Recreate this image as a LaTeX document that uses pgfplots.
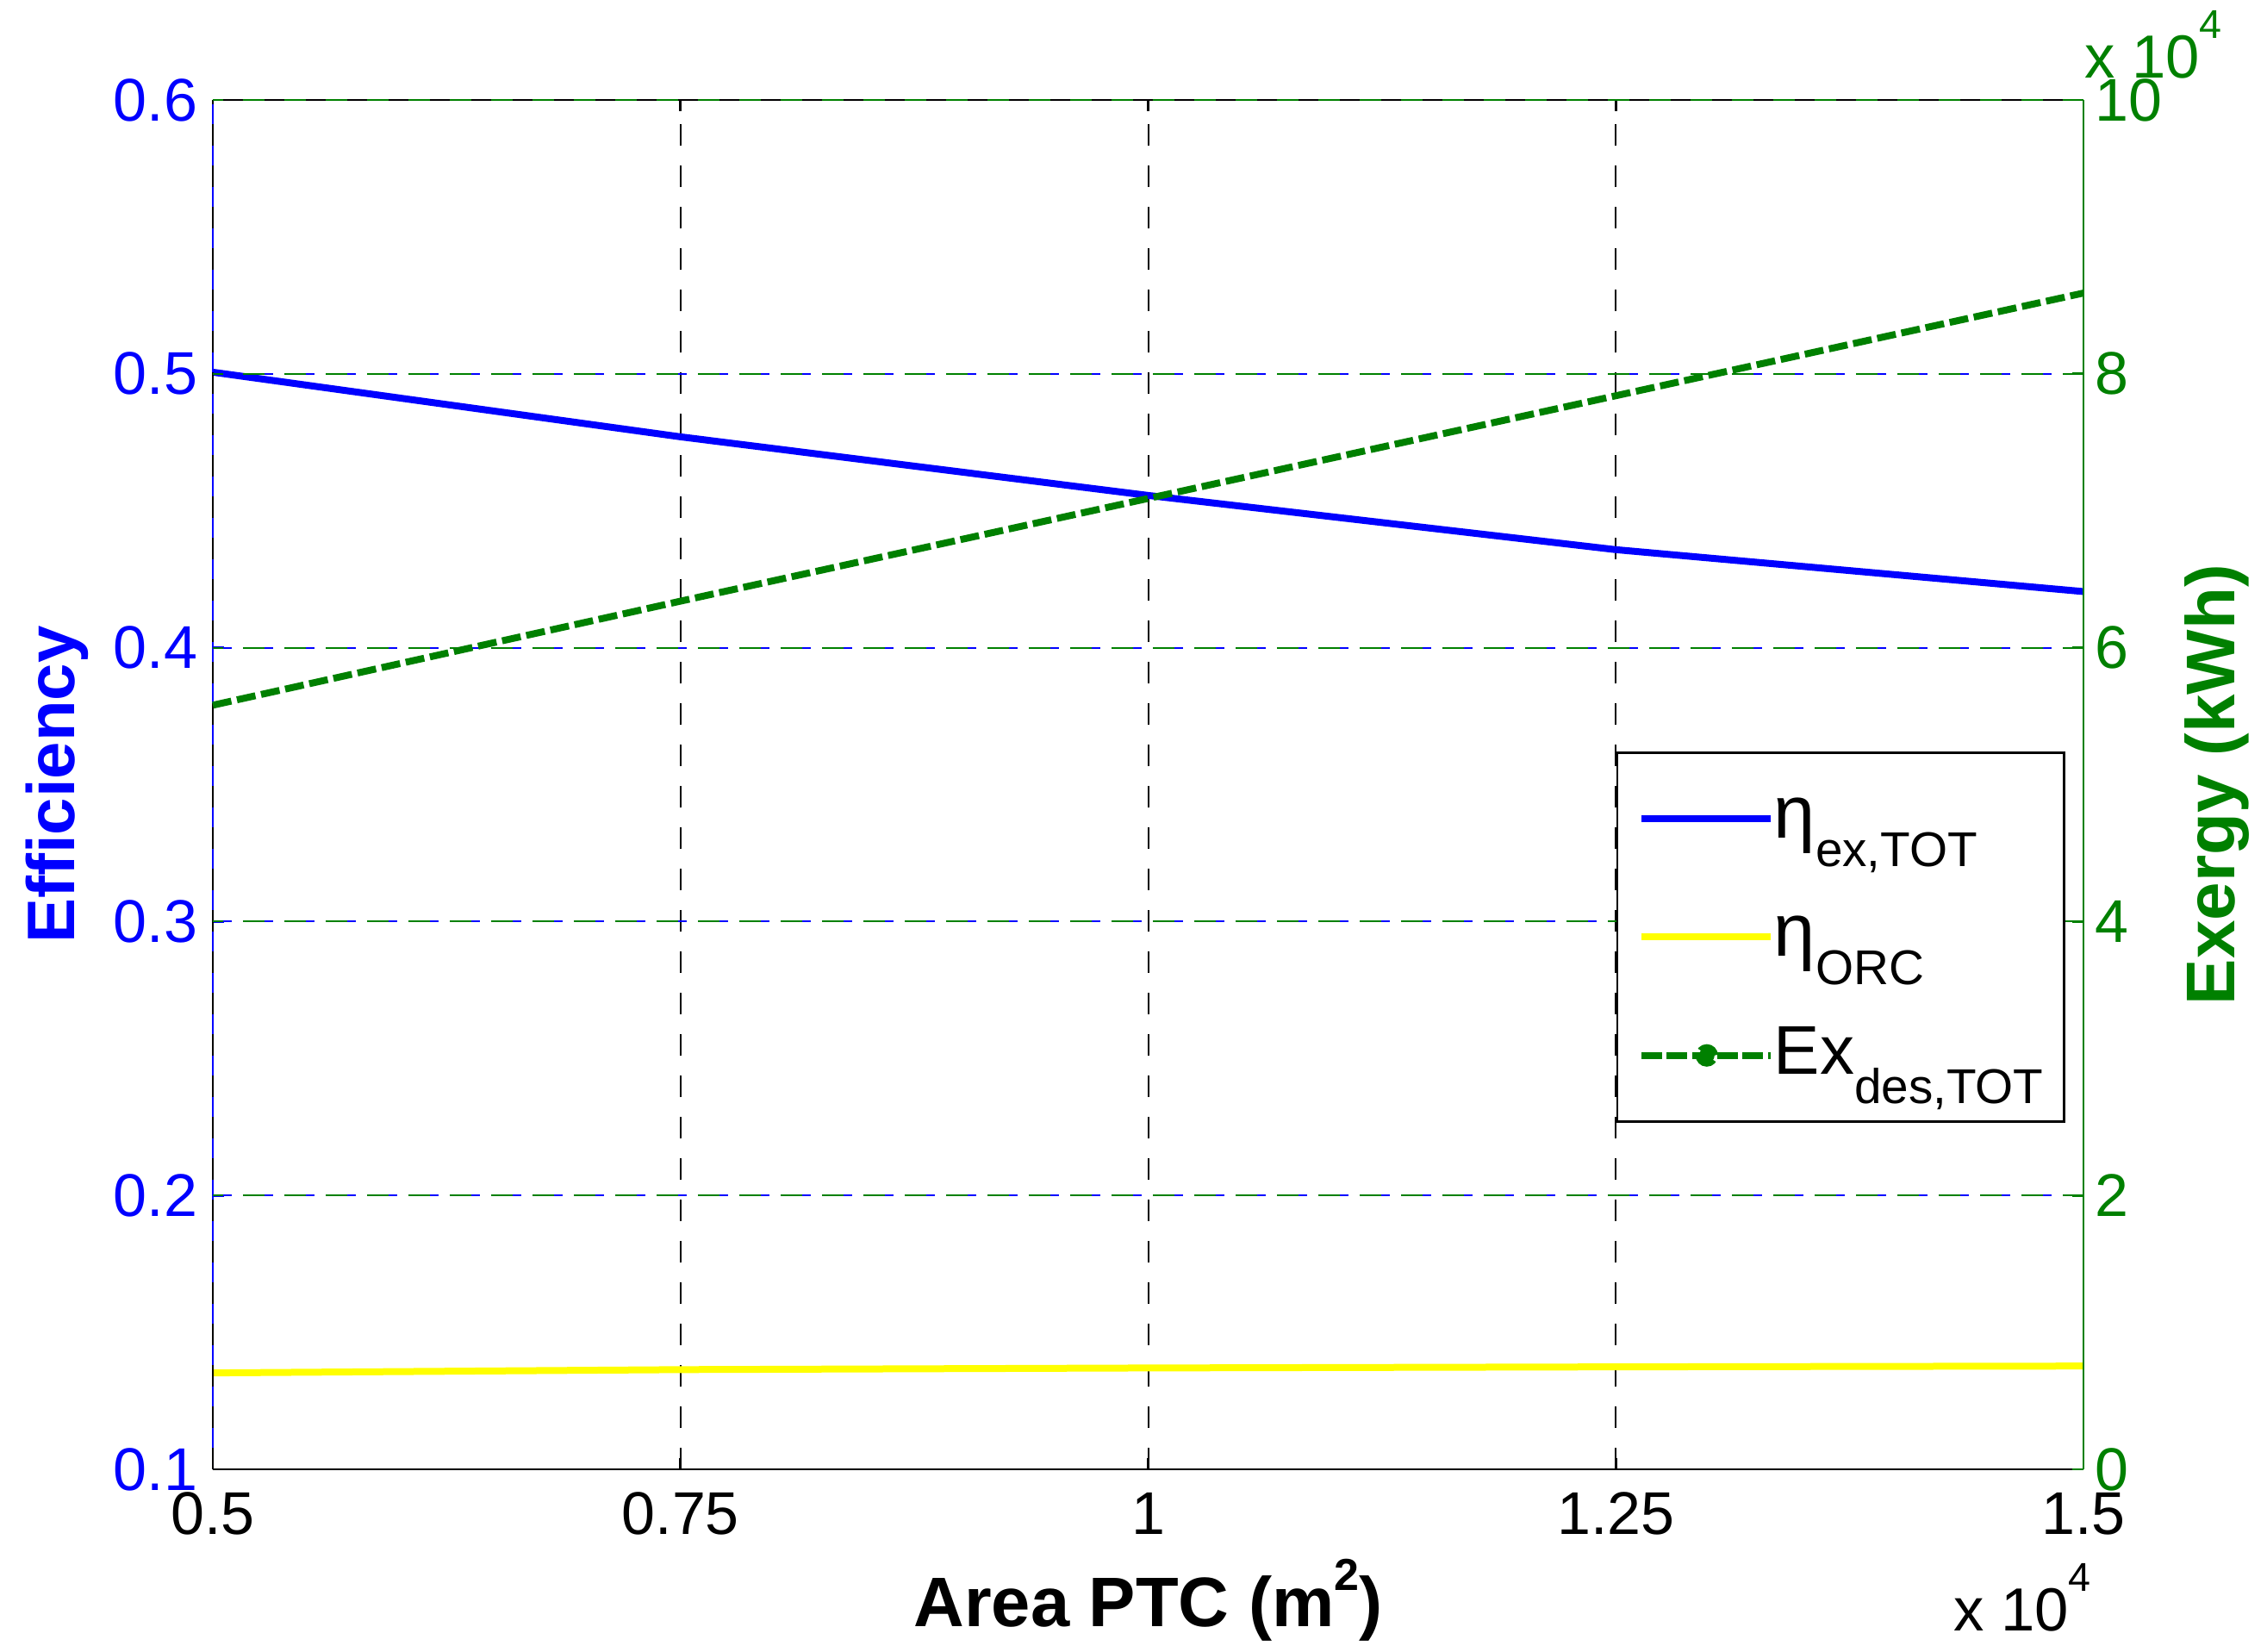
\documentclass[border=0pt]{standalone}
\usepackage{pgfplots}
\pgfplotsset{compat=1.18}
\usepackage{fontspec}
\setmainfont{Liberation Sans}
\definecolor{mblue}{RGB}{0,0,255}
\definecolor{mgreen}{RGB}{0,128,0}
\definecolor{myellow}{RGB}{255,255,0}
\newcommand{\lsub}[1]{\raisebox{-5pt}{\fontsize{8.5}{9}\selectfont #1}}
\newcommand{\lsup}[1]{\raisebox{6.9pt}{\fontsize{7}{7}\selectfont #1}}
\pgfplotstableread{
x y
5000 0.5006
7500 0.4770
10000 0.4556
12500 0.4358
15000 0.4205
}\etaex
\pgfplotstableread{
x y
5000 0.1352
7500 0.1364
10000 0.1370
12500 0.1374
15000 0.1377
}\etaorc
\pgfplotstableread{
x y
5000 55800
7500 63400
10000 70900
12500 78400
15000 85900
}\exdes
\begin{document}
\begin{tikzpicture}
\useasboundingbox (0,0) rectangle (394.65pt,287.4pt);
\begin{axis}[
  at={(37.05pt,31.65pt)}, anchor=south west,
  scale only axis, width=325.65pt, height=238.35pt,
  clip=false,
  xmin=5000, xmax=15000, ymin=0.1, ymax=0.6,
  /pgf/number format/assume math mode=true,
  scaled x ticks=false, scaled y ticks=false,
  xtick={5000,7500,10000,12500,15000},
  xticklabels={0.5,0.75,1,1.25,1.5},
  ytick={0.1,0.2,0.3,0.4,0.5,0.6},
  yticklabels={0.1,0.2,0.3,0.4,0.5,0.6},
  tick align=inside, major tick length=2pt,
  separate axis lines,
  x axis line style={black, line width=0.4pt},
  y axis line style={mblue, line width=0.4pt},
  x tick style={black, line width=0.4pt},
  y tick style={mblue, line width=0.4pt},
  xticklabel style={anchor=base, yshift=-11.25pt, font=\fontsize{10.5}{12}\selectfont},
  yticklabel style={mblue, anchor=east, inner xsep=0pt, xshift=-2.5pt, font=\fontsize{10.5}{12}\selectfont},
  grid=major,
  x grid style={black, line width=0.3pt, dash pattern=on 3.75pt off 3.45pt},
  y grid style={mblue, line width=0.3pt, dash pattern=on 3.75pt off 3.45pt, dash phase=0.45pt},
  xlabel={\fontsize{12.2}{14}\selectfont\bfseries Area PTC (m\raisebox{6.2pt}{\fontsize{7.8}{8}\selectfont\bfseries 2})},
  xlabel style={at={([yshift=-27.3pt]axis description cs:0.5,0)}, anchor=base, inner sep=0pt},
  ylabel={\fontsize{11.7}{14}\selectfont\bfseries Efficiency},
  ylabel style={mblue, at={([xshift=-24.15pt]axis description cs:0,0.5)}, anchor=base, inner sep=0pt},
]
\addplot[myellow, line width=1.2pt] table[x=x,y=y] {\etaorc};
\addplot[mblue, line width=1.2pt] table[x=x,y=y] {\etaex};
\draw[black, line width=0.4pt, dash pattern=on 3.75pt off 3.45pt] (rel axis cs:0,0) -- (rel axis cs:0,1);
\node[anchor=base east, inner sep=0pt, font=\fontsize{10.6}{12}\selectfont] at ([xshift=1.5pt,yshift=-28.05pt]rel axis cs:1,0) {x 10\lsup{4}};
\end{axis}
\begin{axis}[
  at={(37.05pt,31.65pt)}, anchor=south west,
  scale only axis, width=325.65pt, height=238.35pt,
  clip=false,
  xmin=5000, xmax=15000, ymin=0, ymax=100000,
  /pgf/number format/assume math mode=true,
  scaled x ticks=false, scaled y ticks=false,
  axis x line=none,
  axis y line*=right,
  y axis line style={mgreen, line width=0.4pt},
  ytick={0,20000,40000,60000,80000,100000},
  yticklabels={0,2,4,6,8,10},
  tick align=inside, major tick length=2pt,
  y tick style={mgreen, line width=0.4pt},
  yticklabel style={mgreen, anchor=west, inner xsep=0pt, xshift=1.8pt, font=\fontsize{10.5}{12}\selectfont},
  extra y ticks={20000,40000,60000,80000,100000},
  extra y tick labels={},
  extra y tick style={grid=major, major grid style={mgreen, line width=0.3pt, dash pattern=on 3.75pt off 3.45pt, dash phase=1.95pt}},
  ylabel={\fontsize{12}{14}\selectfont\bfseries Exergy (kWh)},
  ylabel style={mgreen, at={([xshift=26.3pt]axis description cs:1,0.5)}, anchor=base, inner sep=0pt},
  legend style={at={(axis description cs:0.9903,0.5242)}, anchor=north east, draw=black, line width=0.4pt, fill=white,
    inner xsep=3.6pt, inner ysep=1.2pt, row sep=0pt, font=\fontsize{12}{14}\selectfont,
    nodes={inner sep=0pt, text height=13.6pt, text depth=7pt},
    /tikz/column 2/.style={column sep=3.5pt}},
  legend cell align=left,
]
\addlegendimage{legend image code/.code={\draw[mblue, line width=1.2pt] (0pt,0pt) -- (22.5pt,0pt);}}
\addlegendentry{\fontsize{13}{14}\selectfont η\lsub{ex,TOT}}
\addlegendimage{legend image code/.code={\draw[myellow, line width=1.2pt] (0pt,0pt) -- (22.5pt,0pt);}}
\addlegendentry{\fontsize{13}{14}\selectfont η\lsub{ORC}}
\addplot[mgreen, line width=1.2pt, dash pattern=on 3.3pt off 1pt,
  legend image code/.code={\draw[mgreen, line width=1.2pt, dash pattern=on 3.6pt off 0.8pt] (0pt,0pt) -- (22.5pt,0pt); \fill[mgreen] (11.4pt,0pt) circle (1.35pt);}]
  table[x=x,y=y] {\exdes};
\addlegendentry{Ex\lsub{des,TOT}}
\node[anchor=base west, inner sep=0pt, mgreen, font=\fontsize{10.6}{12}\selectfont] at ([yshift=3.9pt]rel axis cs:1,1) {x 10\lsup{4}};
\end{axis}
\end{tikzpicture}
\end{document}
